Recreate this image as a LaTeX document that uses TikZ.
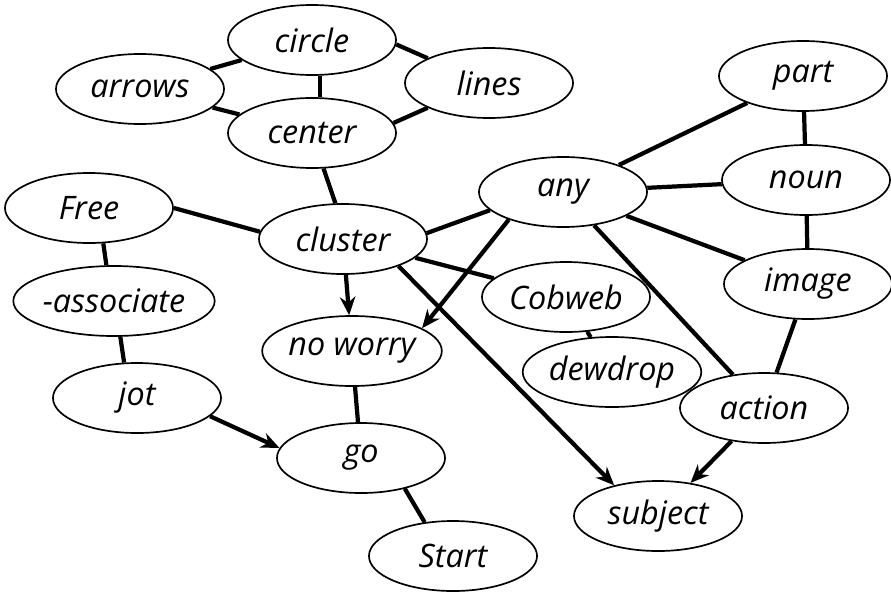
\documentclass[tikz,border=0pt]{standalone}
\usepackage{fontspec}
\setsansfont{Open Sans}
\usetikzlibrary{shapes.geometric,arrows.meta}

\begin{document}
\begin{tikzpicture}[x=0.025cm,y=-0.025cm,
         word/.style={ellipse,draw,line width=1.2pt,minimum width=4.2cm,minimum height=1.75cm,inner sep=0pt,
           font=\sffamily\itshape\fontsize{23}{28}\selectfont},
         link/.style={line width=3pt},
         push/.style={link,-{Stealth[length=13pt,width=11pt]}}]

     \useasboundingbox (0,0) rectangle (891,592);

     \node[word] (circ)    at (312,40)  {circle};
     \node[word] (arrows)  at (140,89)  {arrows};
     \node[word] (lines)   at (489,83)  {lines};
     \node[word] (cent)    at (312,133) {center};
     \node[word] (part)    at (803,76)  {part};
     \node[word] (noun)    at (806,180) {noun};
     \node[word] (any)     at (563,192) {any};
     \node[word] (free)    at (89,208)  {Free};
     \node[word] (cluster) at (343,239) {cluster};
     \node[word] (image)   at (808,284) {image};
     \node[word] (cobweb)  at (566,297) {Cobweb};
     \node[word] (assoc)   at (114,301) {-associate};
     \node[word] (noworry) at (352,351) {no worry};
     \node[word] (dewdrop) at (612,372) {dewdrop};
     \node[word] (jot)     at (137,398) {jot};
     \node[word] (action)  at (764,408) {action};
     \node[word] (go)      at (361,458) {go};
     \node[word] (subject) at (658,516) {subject};
     \node[word] (start)   at (453,556) {Start};

     \draw[link] (arrows) -- (circ);
     \draw[link] (circ.-3.5) -- (lines.158.5);
     \draw[link] (circ.-77) -- (cent.77);
     \draw[link] (arrows) -- (cent);
     \draw[link] (cent.7.7) -- (lines.-158);
     \draw[link] (cent.-72.5) -- (cluster.102.5);
     \draw[link] (free.0) -- (cluster.175);
     \draw[link] (free.-68) -- (assoc.102);
     \draw[link] (assoc.-80) -- (jot.110);
     \draw[link] (cluster.4) -- (any.194);
     \draw[link] (cluster) -- (cobweb);
     \draw[link] (cobweb) -- (dewdrop);
     \draw[push] (cluster) -- (noworry);
     \draw[push] (cluster.-26) -- (subject.145);
     \draw[push] (any.-153) -- (noworry.18);
     \draw[link] (any) -- (part);
     \draw[link] (any) -- (noun);
     \draw[link] (any) -- (image);
     \draw[link] (any) -- (action);
     \draw[link] (part) -- (noun);
     \draw[link] (noun) -- (image);
     \draw[link] (image) -- (action);
     \draw[push] (action) -- (subject);
     \draw[link] (noworry) -- (go);
     \draw[push] (jot.-14) -- (go.173);
     \draw[link] (go.-35.5) -- (start.130);
 \end{tikzpicture}
\end{document}
